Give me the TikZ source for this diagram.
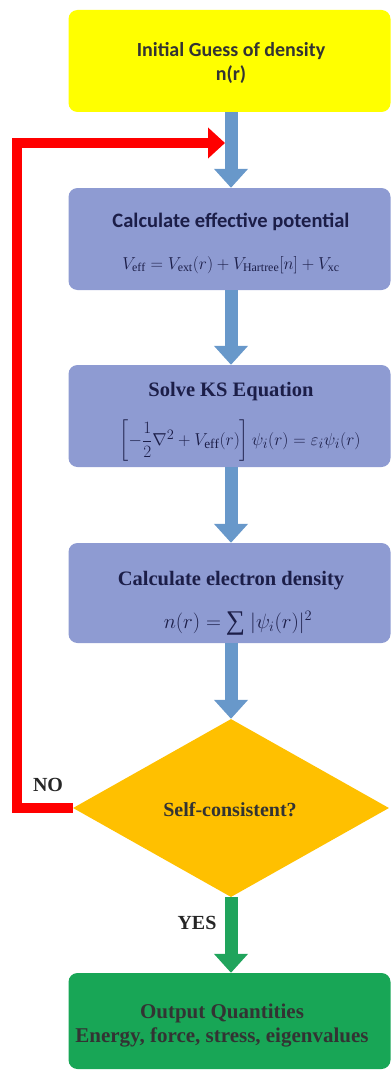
\documentclass[tikz,border=0pt]{standalone}
\usepackage{fontspec}
\usepackage{amsmath}
\setmainfont{Liberation Serif}
\newfontfamily\calfont{Carlito}
\usetikzlibrary{arrows.meta,shapes.geometric}
\definecolor{boxblue}{RGB}{142,155,210}
\definecolor{arrowblue}{RGB}{104,152,202}
\definecolor{boxyellow}{RGB}{255,255,0}
\definecolor{diaorange}{RGB}{255,192,0}
\definecolor{boxgreen}{RGB}{24,166,86}
\definecolor{arrowgreen}{RGB}{32,164,92}
\definecolor{navytext}{RGB}{28,30,72}
\definecolor{redline}{RGB}{255,0,0}
\tikzset{
  flowbox/.style={rounded corners=9pt, minimum width=322pt, align=center, inner sep=0pt},
  bluebox/.style={flowbox, fill=boxblue, text=navytext},
  txt/.style={inner sep=1pt},
  bluearrow/.style={draw=arrowblue, line width=13pt, -{Triangle[width=33pt,length=19pt]}},
  greenarrow/.style={draw=arrowgreen, line width=13pt, -{Triangle[width=33pt,length=19pt]}},
  redarrow/.style={draw=redline, line width=9.5pt, -{Triangle[width=30pt,length=17pt]}},
  lbl/.style={txt, font=\fontsize{20}{22}\selectfont\bfseries, text=black!85}
}
\begin{document}
\begin{tikzpicture}[x=1pt,y=-1pt]
\useasboundingbox (0,0) rectangle (391,1070);
% boxes
\node[flowbox, fill=boxyellow, minimum height=102pt] (init) at (229.5,61) {};
\node[txt, font=\calfont\fontsize{20}{24}\selectfont\bfseries, text=black!80, align=center] (initt) at (231,63) {Initial Guess of density\\[0pt] n(r)};

\node[bluebox, minimum height=102pt] (veff) at (229.5,239) {};
\node[txt, font=\calfont\fontsize{20.5}{22}\selectfont\bfseries, text=navytext] (vefft) at (231,222) {Calculate effective potential};
\node[txt, font=\fontsize{17}{20}\selectfont, text=navytext] (veffm) at (231,265) {$V_{\mathrm{eff}} = V_{\mathrm{ext}}(r) + V_{\mathrm{Hartree}}[n] + V_{\mathrm{xc}}$};

\node[bluebox, minimum height=102pt] (ks) at (229.5,416) {};
\node[txt, font=\fontsize{20.5}{22}\selectfont\bfseries, text=navytext] (kst) at (231,392) {Solve KS Equation};
\node[txt, font=\fontsize{19}{22}\selectfont, text=navytext] (ksm) at (240,441) {$\left[-\dfrac{1}{2}\nabla^2 + V_{\mathrm{eff}}(r)\right]\psi_i(r) = \varepsilon_i\psi_i(r)$};

\node[bluebox, minimum height=100pt] (dens) at (229.5,593) {};
\node[txt, font=\fontsize{20.5}{22}\selectfont\bfseries, text=navytext] (denst) at (231,581) {Calculate electron density};
\node[txt, font=\fontsize{20}{22}\selectfont, text=navytext] (densm) at (238,623) {$n(r) =$ \raisebox{-1pt}{\fontsize{27}{27}\selectfont ∑} $|\psi_i(r)|^2$};

\node[diamond, fill=diaorange, minimum width=316pt, minimum height=178pt, inner sep=0pt, aspect=1.8] (sc) at (231,808) {};
\node[txt, font=\fontsize{20}{22}\selectfont\bfseries, text=black!80] (sct) at (230,810) {Self-consistent?};

\node[flowbox, fill=boxgreen, minimum height=96pt, text=black!85] (out) at (229.5,1021) {};
\node[txt, font=\fontsize{21}{24}\selectfont\bfseries, text=black!80, align=center] (outt) at (222,1026) {Output Quantities\\[0pt] Energy, force, stress, eigenvalues};

% arrows
\draw[bluearrow] ([xshift=1.5pt]init.south) -- ([xshift=1.5pt]veff.north);
\draw[bluearrow] ([xshift=1.5pt]veff.south) -- ([xshift=1.5pt]ks.north);
\draw[bluearrow] ([xshift=1.5pt]ks.south) -- ([xshift=1.5pt]dens.north);
\draw[bluearrow] ([xshift=1.5pt]dens.south) -- (sc.north);
\draw[greenarrow] (sc.south) -- ([xshift=1.5pt]out.north);

% feedback loop
\coordinate (loopL) at (17,808);
\coordinate (loopT) at (17,143);
\coordinate (loopE) at (225,143);
\draw[redarrow] (sc.west) -- (loopL) -- (loopT) -- (loopE);

\node[lbl] (no) at (48,785) {NO};
\node[lbl] (yes) at (197,923) {YES};
\end{tikzpicture}
\end{document}
